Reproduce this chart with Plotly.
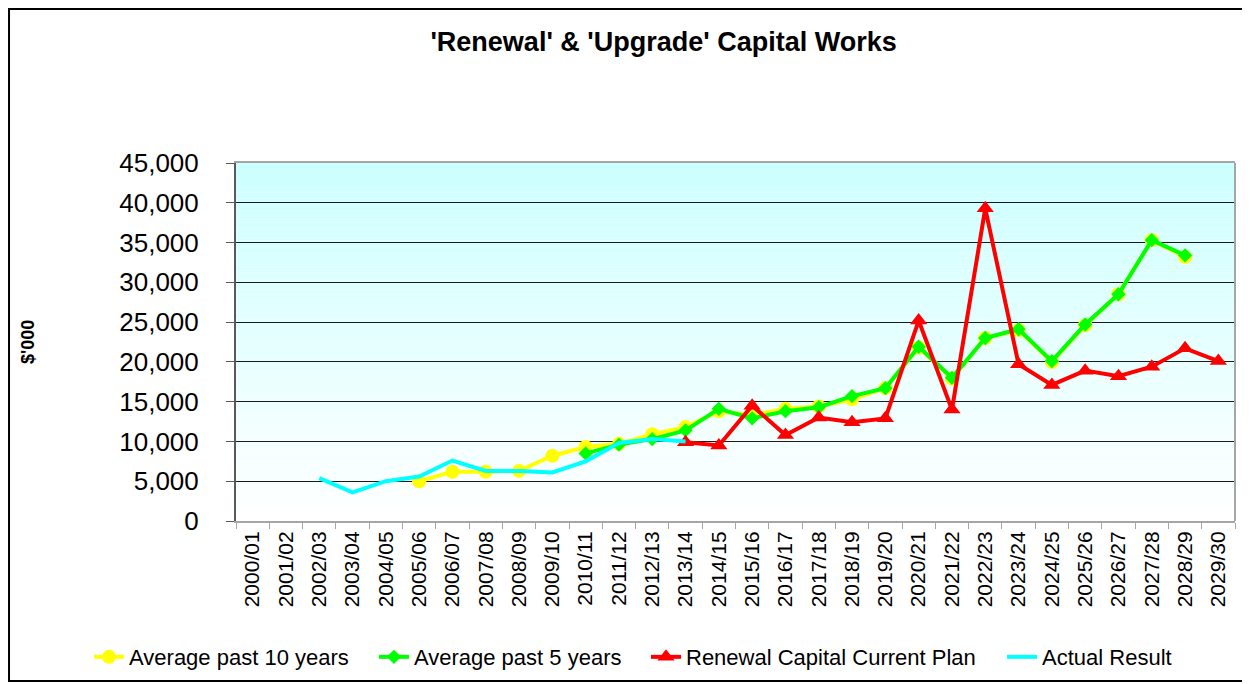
import plotly.graph_objects as go

years = [
    "2000/01", "2001/02", "2002/03", "2003/04", "2004/05", "2005/06",
    "2006/07", "2007/08", "2008/09", "2009/10", "2010/11", "2011/12",
    "2012/13", "2013/14", "2014/15", "2015/16", "2016/17", "2017/18",
    "2018/19", "2019/20", "2020/21", "2021/22", "2022/23", "2023/24",
    "2024/25", "2025/26", "2026/27", "2027/28", "2028/29", "2029/30",
]

avg_10 = [
    None, None, None, None, None, 5000,
    6200, 6200, 6300, 8200, 9300, 9700,
    10900, 11800, 13800, 13300, 14100, 14400,
    15300, 16700, 21800, 17900, 23000, 24000,
    20000, 24600, 28500, 35300, 33200, None,
]

avg_5 = [
    None, None, None, None, None, None,
    None, None, None, None, 8500, 9600,
    10300, 11400, 14100, 12900, 13800, 14300,
    15700, 16700, 21900, 18000, 23000, 24100,
    20100, 24700, 28500, 35300, 33400, None,
]

renewal_plan = [
    None, None, None, None, None, None,
    None, None, None, None, None, None,
    None, 9900, 9500, 14500, 10800, 13000,
    12400, 12900, 25200, 14000, 39300, 19700,
    17100, 18900, 18200, 19400, 21700, 20100,
]

actual = [
    None, None, 5400, 3600, 5000, 5600,
    7600, 6300, 6300, 6100, 7500, 9800,
    10300, 10000, None, None, None, None,
    None, None, None, None, None, None,
    None, None, None, None, None, None,
]

FONT = "Liberation Sans, Arial, sans-serif"

fig = go.Figure()
fig.add_trace(go.Scatter(
    x=years, y=avg_10, name="Average past 10 years", mode="lines+markers",
    line=dict(color="#FFFF00", width=4),
    marker=dict(symbol="circle", size=14, color="#FFFF00"),
    legend="legend",
))
fig.add_trace(go.Scatter(
    x=years, y=avg_5, name="Average past 5 years", mode="lines+markers",
    line=dict(color="#00FF00", width=4),
    marker=dict(symbol="diamond", size=11, color="#00FF00"),
    legend="legend2",
))
fig.add_trace(go.Scatter(
    x=years, y=renewal_plan, name="Renewal Capital Current Plan", mode="lines+markers",
    line=dict(color="#FF0000", width=4),
    marker=dict(symbol="triangle-up", size=15, color="#FF0000"),
    legend="legend3",
))
fig.add_trace(go.Scatter(
    x=years, y=actual, name="Actual Result", mode="lines",
    line=dict(color="#00FFFF", width=4),
    legend="legend4",
))

# light cyan to white gradient behind the plot
shapes = []
n = 60
for i in range(n):
    t = (i + 0.5) / n
    r = int(round(255 - (255 - 204) * t))
    shapes.append(dict(
        type="rect", xref="x domain", yref="y domain",
        x0=0, x1=1, y0=i / n, y1=(i + 1) / n,
        fillcolor=f"rgb({r},255,255)", line=dict(width=0), layer="below",
    ))
# right edge of plot area
shapes.append(dict(type="line", xref="x domain", yref="y domain",
                   x0=1, x1=1, y0=0, y1=1, line=dict(color="#A6A6A6", width=2)))
# chart outer border
shapes.append(dict(type="rect", xref="paper", yref="paper",
                   x0=-0.2272, x1=1.012, y0=-0.447, y1=1.430,
                   line=dict(color="black", width=2)))


def legend_box(x):
    return dict(
        orientation="h", x=x, xanchor="left", y=-0.38, yanchor="middle",
        font=dict(size=22, family=FONT), bgcolor="rgba(0,0,0,0)",
    )


fig.update_layout(
    width=1242, height=676,
    margin=dict(l=228, r=15, t=155, b=163, autoexpand=False),
    paper_bgcolor="white",
    plot_bgcolor="rgba(0,0,0,0)",
    font=dict(family=FONT, color="black"),
    title=dict(
        text="<b>'Renewal' & 'Upgrade' Capital Works</b>",
        font=dict(size=27, family=FONT, color="black"),
        xref="paper", x=0.428, xanchor="center",
        yref="container", y=0.951, yanchor="middle",
    ),
    shapes=shapes,
    showlegend=True,
    legend=legend_box(-0.1471),
    legend2=legend_box(0.1381),
    legend3=legend_box(0.4104),
    legend4=legend_box(0.7668),
    annotations=[dict(
        text="<b>$'000</b>", textangle=-90, showarrow=False,
        xref="paper", yref="paper", x=-0.2082, y=0.5,
        xanchor="center", yanchor="middle",
        font=dict(size=18, family=FONT),
    )],
)

fig.update_xaxes(
    type="category", range=[-0.5, 29.5], tickangle=-90, tickfont=dict(size=21),
    ticks="outside", tickson="boundaries", ticklen=6, tickcolor="#A6A6A6",
    showline=True, linecolor="#A6A6A6", linewidth=2, mirror=True,
    showgrid=False, automargin=False,
)
fig.update_yaxes(
    range=[0, 45000], dtick=5000, tickformat=",", tickfont=dict(size=26),
    ticks="outside", ticklen=8, tickcolor="#595959", ticklabelstandoff=22,
    showline=True, linecolor="#595959", linewidth=2,
    showgrid=True, gridcolor="#1A1A1A", gridwidth=1,
    zeroline=False, automargin=False,
)

fig.write_html("out.html")
